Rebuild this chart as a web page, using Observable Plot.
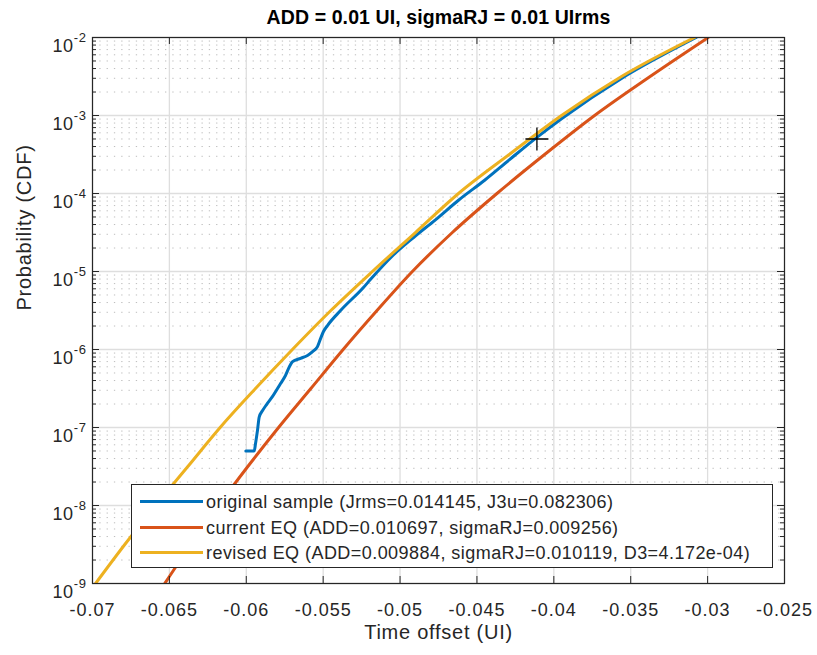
<!DOCTYPE html>
<html>
<head>
<meta charset="utf-8">
<script src="https://cdn.jsdelivr.net/npm/d3@7"></script>
<script src="https://cdn.jsdelivr.net/npm/@observablehq/plot@0.6"></script>
<style>
  body { margin: 0; background: white; }
  #wrap { position: relative; width: 817px; height: 655px; font-family: "Liberation Sans", Arial, Helvetica, sans-serif; }
  #legend { position: absolute; left: 131px; top: 484px; width: 642px; height: 84px; box-sizing: border-box;
            border: 1px solid #262626; background: white; }
  .row { position: absolute; left: 0; height: 0; }
  .sw { position: absolute; left: 8px; width: 63px; height: 3px; margin-top: -1.5px; }
  .lt { position: absolute; left: 74px; top: -11px; white-space: nowrap; font-size: 18px; letter-spacing: 0.45px; color: #262626; line-height: 22px; }
</style>
</head>
<body>
<div id="wrap"></div>
<script>
// ---- data ----
const titleText = "ADD = 0.01 UI, sigmaRJ = 0.01 UIrms";
const xLabel = "Time offset (UI)";
const yLabel = "Probability (CDF)";
const xTicks = [-0.07, -0.065, -0.06, -0.055, -0.05, -0.045, -0.04, -0.035, -0.03, -0.025];
const yTicks = [1e-9, 1e-8, 1e-7, 1e-6, 1e-5, 1e-4, 1e-3, 1e-2];

const seriesNames = [
  "original sample (Jrms=0.014145, J3u=0.082306)",
  "current EQ (ADD=0.010697, sigmaRJ=0.009256)",
  "revised EQ (ADD=0.009884, sigmaRJ=0.010119, D3=4.172e-04)"
];
const seriesColors = ["#0072BD", "#D95319", "#EDB120"];

const sampleX = [-0.06003, -0.05948, -0.05940, -0.05927, -0.05916, -0.05894, -0.05868, -0.05829, -0.05777, -0.05745,
                 -0.05719, -0.05699, -0.05647, -0.05602, -0.05569, -0.05537, -0.05517, -0.05498, -0.05472, -0.05387,
                 -0.05238, -0.0519, -0.0505, -0.0491, -0.0477, -0.0462, -0.0445, -0.0429, -0.0411, -0.0395,
                 -0.0356, -0.03075];
const sampleP = [5e-8, 5e-8, 6.2e-8, 9.2e-8, 1.36e-7, 1.65e-7, 1.97e-7, 2.5e-7, 3.66e-7, 4.64e-7,
                 6.06e-7, 7.0e-7, 7.7e-7, 8.4e-7, 9.4e-7, 1.09e-6, 1.38e-6, 1.7e-6, 2.03e-6, 3.16e-6,
                 6.24e-6, 8.0e-6, 1.58e-5, 2.75e-5, 4.6e-5, 8.2e-5, 1.48e-4, 2.7e-4, 5.25e-4, 9.1e-4,
                 2.99e-3, 1e-2];

const currentX = [-0.0653, -0.0636, -0.0618, -0.0599, -0.0579, -0.0558, -0.0537, -0.0515, -0.0492,
                  -0.0466, -0.0437, -0.0406, -0.03735, -0.03374, -0.02996];
const currentP = [1e-9, 3.16e-9, 1e-8, 3.16e-8, 1e-7, 3.16e-7, 1e-6, 3.16e-6, 1e-5,
                  3.16e-5, 1e-4, 3.16e-4, 1e-3, 3.16e-3, 1e-2];

const revisedX = [-0.0698, -0.0679, -0.0659, -0.0638, -0.0617, -0.0594, -0.0570, -0.0545, -0.0518,
                  -0.0490, -0.0462, -0.0429, -0.0395, -0.0356, -0.03085];
const revisedP = [1e-9, 3.16e-9, 1e-8, 3.16e-8, 1e-7, 3.16e-7, 1e-6, 3.16e-6, 1e-5,
                  3.16e-5, 1e-4, 3.16e-4, 1e-3, 3.16e-3, 1e-2];

const markerX = [-0.0411];
const markerP = [5.0e-4];

// ---- build ----
const toRows = (xs, ps) => xs.map((x, i) => ({x, p: ps[i]}));
const sample = toRows(sampleX, sampleP);
const current = toRows(currentX, currentP);
const revised = toRows(revisedX, revisedP);
const marker = toRows(markerX, markerP);

const W = 817, H = 655, mL = 92, mR = 33, mT = 37, mB = 72;
const fw = W - mL - mR, fh = H - mT - mB;

const yMinor = d3.scaleLog().domain([1e-9, 1e-2]).ticks().filter(v => Math.abs(Math.log10(v) - Math.round(Math.log10(v))) > 1e-6);

const plusSymbol = {
  draw(ctx, size) {
    const r = Math.sqrt(size / Math.PI);
    ctx.moveTo(-r, 0); ctx.lineTo(r, 0);
    ctx.moveTo(0, -r); ctx.lineTo(0, r);
  }
};

const axisColor = "#262626";

const chart = Plot.plot({
  width: W, height: H,
  marginLeft: mL, marginRight: mR, marginTop: mT, marginBottom: mB,
  x: {domain: [-0.07, -0.025]},
  y: {type: "log", domain: [1e-9, 1e-2]},
  style: {fontFamily: "'Liberation Sans', Arial, Helvetica, sans-serif", fontSize: "18px", background: "white", color: axisColor, overflow: "visible"},
  marks: [
    Plot.ruleY(yMinor, {y: d => d, stroke: "#bdbdbd", strokeWidth: 1, strokeDasharray: "1.3,6"}),
    Plot.ruleX(xTicks, {x: d => d, stroke: "#dedede", strokeWidth: 1.3}),
    Plot.ruleY(yTicks, {y: d => d, stroke: "#dedede", strokeWidth: 1.3}),
    Plot.line(sample, {x: "x", y: "p", stroke: seriesColors[0], strokeWidth: 3, curve: "monotone-x", clip: true}),
    Plot.line(current, {x: "x", y: "p", stroke: seriesColors[1], strokeWidth: 3, curve: "monotone-x", clip: true}),
    Plot.line(revised, {x: "x", y: "p", stroke: seriesColors[2], strokeWidth: 3, curve: "monotone-x", clip: true}),
    Plot.dot(marker, {x: "x", y: "p", symbol: plusSymbol, r: 11.5, stroke: "#000", strokeWidth: 1.3, fill: "none"}),
    // inward ticks (box on)
    Plot.tickX(xTicks, {x: d => d, insetTop: fh - 7, stroke: axisColor}),
    Plot.tickX(xTicks, {x: d => d, insetBottom: fh - 7, stroke: axisColor}),
    Plot.tickY(yTicks, {y: d => d, insetRight: fw - 7, stroke: axisColor}),
    Plot.tickY(yTicks, {y: d => d, insetLeft: fw - 7, stroke: axisColor}),
    Plot.tickY(yMinor, {y: d => d, insetRight: fw - 4, stroke: axisColor}),
    Plot.tickY(yMinor, {y: d => d, insetLeft: fw - 4, stroke: axisColor}),
    Plot.frame({stroke: axisColor, strokeWidth: 1.2}),
    Plot.axisX({ticks: xTicks, tickSize: 0, tickPadding: 20, tickFormat: d => String(d), label: null, fill: axisColor}),
    Plot.axisY({ticks: yTicks, tickSize: 0, tickPadding: 6, tickFormat: d => "10^" + Math.round(Math.log10(d)), label: null, fill: axisColor}),
    Plot.text([titleText], {text: d => d, frameAnchor: "top", dy: -20, lineAnchor: "middle", fontWeight: "bold", fontSize: 19.5, fill: "#000"}),
    Plot.text([xLabel], {text: d => d, frameAnchor: "bottom", dy: 49, lineAnchor: "middle", fontSize: 20, fill: axisColor}),
    Plot.text([yLabel], {text: d => d, frameAnchor: "left", dx: -68, rotate: -90, lineAnchor: "middle", fontSize: 20, fill: axisColor})
  ]
});

const wrap = document.getElementById("wrap");
wrap.appendChild(chart);

// superscript exponents on y tick labels; letter spacing on tick/axis labels
const svgNS = "http://www.w3.org/2000/svg";
chart.querySelectorAll("text").forEach(t => {
  const s = t.textContent;
  const m = s.match(/^10\^(-?\d+)$/);
  if (m) {
    t.textContent = "";
    t.setAttribute("dy", "0");
    const a = document.createElementNS(svgNS, "tspan");
    a.setAttribute("dy", "9");
    a.textContent = "10";
    const b = document.createElementNS(svgNS, "tspan");
    b.setAttribute("dy", "-10.5");
    b.setAttribute("font-size", "13px");
    b.textContent = m[1];
    t.appendChild(a); t.appendChild(b);
    t.style.letterSpacing = "0.6px";
  } else if (s === titleText) {
    t.style.letterSpacing = "0.1px";
  } else if (s === xLabel || s === yLabel) {
    t.style.letterSpacing = "0.75px";
  } else {
    t.style.letterSpacing = "1px";
  }
});

// legend
const legend = document.createElement("div");
legend.id = "legend";
const rowY = [16.5, 42.5, 67.5];
seriesNames.forEach((name, i) => {
  const row = document.createElement("div");
  row.className = "row";
  row.style.top = rowY[i] + "px";
  const sw = document.createElement("div");
  sw.className = "sw";
  sw.style.background = seriesColors[i];
  const lt = document.createElement("div");
  lt.className = "lt";
  lt.textContent = name;
  row.appendChild(sw); row.appendChild(lt);
  legend.appendChild(row);
});
wrap.appendChild(legend);
</script>
</body>
</html>
